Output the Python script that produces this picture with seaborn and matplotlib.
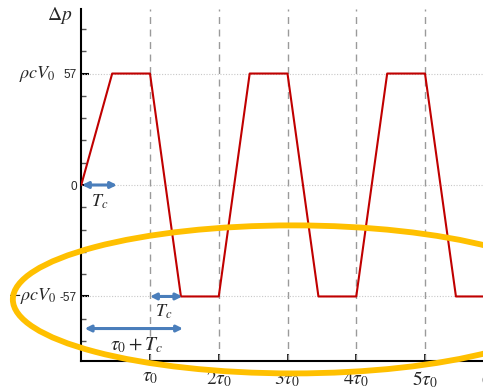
import matplotlib
matplotlib.use("Agg")
import matplotlib.pyplot as plt
from matplotlib.patches import Ellipse
import numpy as np
import pandas as pd
import seaborn as sns

# ---- data ----
t_vals = [0.0, 0.45, 1.0, 1.45, 2.0, 2.45, 3.0, 3.45, 4.0, 4.45, 5.0, 5.45, 6.0, 6.45]
dp_vals = [0, 57, 57, -57, -57, 57, 57, -57, -57, 57, 57, -57, -57, 57]
x_ticks = [1, 2, 3, 4, 5, 6]
x_tick_labels = [r"$\tau_0$", r"$2\tau_0$", r"$3\tau_0$", r"$4\tau_0$", r"$5\tau_0$", r"$6\tau_0$"]
y_major = [-57, 0, 57]
y_major_labels = ["-57", "0", "57"]
y_minor = [-79.8, -68.4, -45.6, -34.2, -22.8, -11.4, 11.4, 22.8, 34.2, 45.6, 68.4, 79.8]

df = pd.DataFrame({"t": t_vals, "dp": dp_vals})

sns.set_style("white")
plt.rcParams["mathtext.fontset"] = "stix"
plt.rcParams["font.family"] = ["Liberation Sans", "DejaVu Sans"]

fig = plt.figure(figsize=(4.83, 3.89), dpi=100)
ax = fig.add_axes([81.25 / 483, 28 / 389, 6.6 * 68.75 / 483, 352 / 389])

# grid lines
for xv in x_ticks:
    ax.axvline(xv, color="#9a9a9a", lw=1.0, dashes=(5, 4), zorder=1)
for yv in y_major:
    ax.axhline(yv, color="#c8c8c8", lw=0.8, ls=(0, (1, 1.5)), zorder=1)

sns.lineplot(data=df, x="t", y="dp", color="#C00000", lw=1.5, ax=ax, zorder=3)

ax.set_xlim(0, 6.6)
ax.set_ylim(-90, 90)
ax.set_xlabel("")
ax.set_ylabel("")

ax.set_xticks(x_ticks)
ax.set_xticklabels(x_tick_labels, fontsize=14)
ax.set_yticks(y_major)
ax.set_yticklabels(y_major_labels, fontsize=8.5)
ax.set_yticks(y_minor, minor=True)
ax.tick_params(axis="x", direction="in", length=5, width=1.3, pad=6, color="black")
ax.tick_params(axis="y", which="major", direction="in", length=6, width=1.5, pad=3, color="black", left=True)
ax.tick_params(axis="y", which="minor", direction="in", length=3.5, width=1.0, color="#555555", left=True)
ax.tick_params(axis="x", bottom=True)

for s in ["top", "right"]:
    ax.spines[s].set_visible(False)
for s in ["left", "bottom"]:
    ax.spines[s].set_color("black")
    ax.spines[s].set_linewidth(1.5)

# labels
ax.text(-0.31, 86.5, r"$\Delta p$", fontsize=14, ha="center", va="center", clip_on=False)
ax.text(-0.37, 57, r"$\rho c V_0$", fontsize=13, ha="right", va="center", clip_on=False)
ax.text(-0.37, -57, r"$-\rho c V_0$", fontsize=13, ha="right", va="center", clip_on=False)

blue = "#4A7EBB"
ap = dict(arrowstyle="<|-|>", color=blue, lw=2.2, mutation_scale=9, shrinkA=0, shrinkB=0)
ax.annotate("", xy=(0.52, 0), xytext=(0.01, 0), arrowprops=ap, zorder=4)
ax.annotate("", xy=(1.47, -57), xytext=(1.0, -57), arrowprops=ap, zorder=4)
ax.annotate("", xy=(1.48, -73.4), xytext=(0.05, -73.4), arrowprops=ap, zorder=4)
ax.text(0.27, -8.5, r"$T_c$", fontsize=13, ha="center", va="center")
ax.text(1.2, -65, r"$T_c$", fontsize=13, ha="center", va="center")
ax.text(0.81, -82, r"$\tau_0 + T_c$", fontsize=14, ha="center", va="center")

ell = Ellipse((3.08, -58.5), 8.15, 75.7, fill=False, edgecolor="#FFC000", lw=4.2,
              clip_on=False, zorder=5)
ax.add_patch(ell)

fig.savefig("out.png", dpi=100)
